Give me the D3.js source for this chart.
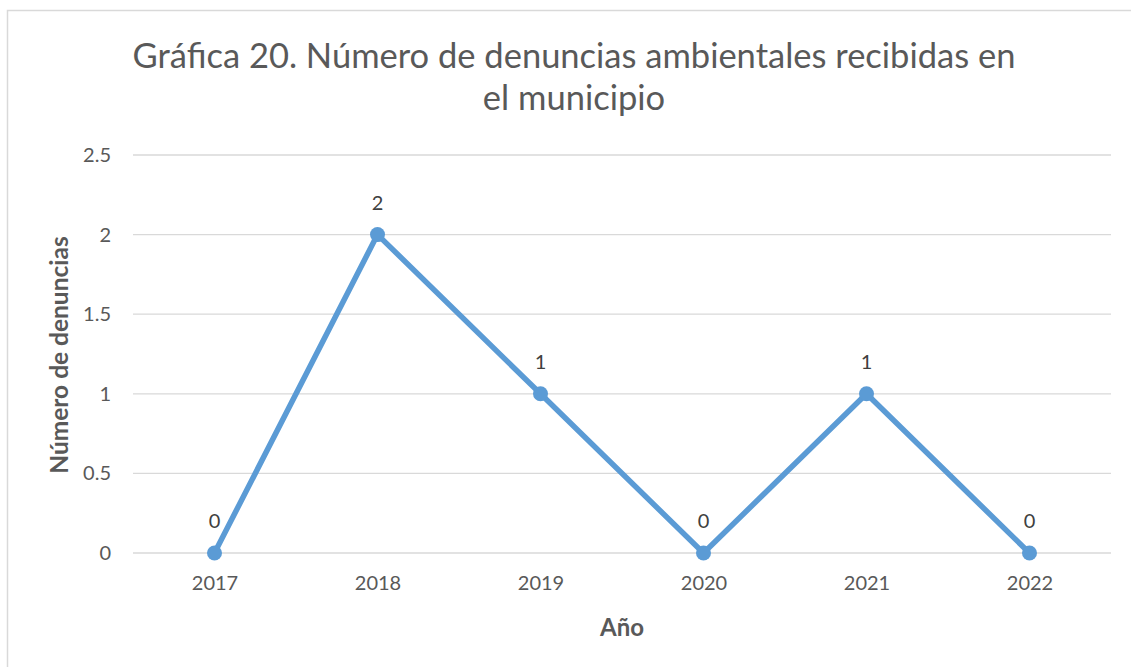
<!DOCTYPE html>
<html>
<head>
<meta charset="utf-8">
<script src="https://cdn.jsdelivr.net/npm/d3@7"></script>
<style>
  body { margin: 0; background: #fff; }
  text { font-family: Lato, "Open Sans", sans-serif; }
</style>
</head>
<body>
<div id="chart"></div>
<script>
// Chart data
var years = ["2017", "2018", "2019", "2020", "2021", "2022"];
var denuncias = [0, 2, 1, 0, 1, 0];
var yTicks = [0, 0.5, 1, 1.5, 2, 2.5];
var titleLines = ["Gráfica 20. Número de denuncias ambientales recibidas en", "el municipio"];

var width = 1131, height = 667;
var plotLeft = 133, plotRight = 1111, plotTop = 155, plotBottom = 553;

var svg = d3.select("#chart").append("svg")
    .attr("width", width)
    .attr("height", height);

// outer frame of the chart area
svg.append("rect")
    .attr("x", 7.5).attr("y", 10.5)
    .attr("width", width).attr("height", height)
    .attr("fill", "none")
    .attr("stroke", "#d9d9d9")
    .attr("stroke-width", 1.5);

var x = d3.scalePoint().domain(years).range([plotLeft, plotRight]).padding(0.5);
var y = d3.scaleLinear().domain([0, 2.5]).range([plotBottom, plotTop]);

// gridlines
svg.append("g").selectAll("line")
    .data(yTicks)
    .enter().append("line")
    .attr("x1", plotLeft).attr("x2", plotRight)
    .attr("y1", function (d) { return y(d); })
    .attr("y2", function (d) { return y(d); })
    .attr("stroke", "#d9d9d9")
    .attr("stroke-width", 1.3);

// y axis labels
var yAxis = svg.append("g")
    .attr("transform", "translate(" + (plotLeft - 22) + ",0)")
    .call(d3.axisLeft(y).tickValues(yTicks).tickSize(0).tickPadding(0)
        .tickFormat(function (d) { return String(d); }));
yAxis.select(".domain").remove();
yAxis.selectAll("text")
    .attr("fill", "#595959")
    .style("font-size", "20px");

// x axis labels
var xAxis = svg.append("g")
    .attr("transform", "translate(0," + (plotBottom + 19) + ")")
    .call(d3.axisBottom(x).tickSize(0).tickPadding(4));
xAxis.select(".domain").remove();
xAxis.selectAll("text")
    .attr("fill", "#595959")
    .style("font-size", "20px");

// line
var line = d3.line()
    .x(function (d, i) { return x(years[i]); })
    .y(function (d) { return y(d); });

svg.append("path")
    .datum(denuncias)
    .attr("fill", "none")
    .attr("stroke", "#5b9bd5")
    .attr("stroke-width", 5.5)
    .attr("stroke-linejoin", "round")
    .attr("d", line);

svg.append("g").selectAll("circle")
    .data(denuncias)
    .enter().append("circle")
    .attr("cx", function (d, i) { return x(years[i]); })
    .attr("cy", function (d) { return y(d); })
    .attr("r", 7.5)
    .attr("fill", "#5b9bd5");

// data labels
svg.append("g").selectAll("text")
    .data(denuncias)
    .enter().append("text")
    .attr("x", function (d, i) { return x(years[i]); })
    .attr("y", function (d) { return y(d) - 25; })
    .attr("text-anchor", "middle")
    .attr("fill", "#404040")
    .style("font-size", "20px")
    .text(function (d) { return d; });

// title
svg.append("g").selectAll("text")
    .data(titleLines)
    .enter().append("text")
    .attr("x", 574)
    .attr("y", function (d, i) { return 68 + i * 42; })
    .attr("text-anchor", "middle")
    .attr("fill", "#595959")
    .style("font-size", "34.5px")
    .text(function (d) { return d; });

// axis titles
svg.append("text")
    .attr("x", (plotLeft + plotRight) / 2)
    .attr("y", 636)
    .attr("text-anchor", "middle")
    .attr("fill", "#595959")
    .style("font-size", "24px")
    .style("font-weight", "bold")
    .text("Año");

svg.append("text")
    .attr("transform", "translate(68," + ((plotTop + plotBottom) / 2 + 1) + ") rotate(-90)")
    .attr("text-anchor", "middle")
    .attr("fill", "#595959")
    .style("font-size", "24.5px")
    .style("font-weight", "bold")
    .text("Número de denuncias");
</script>
</body>
</html>
